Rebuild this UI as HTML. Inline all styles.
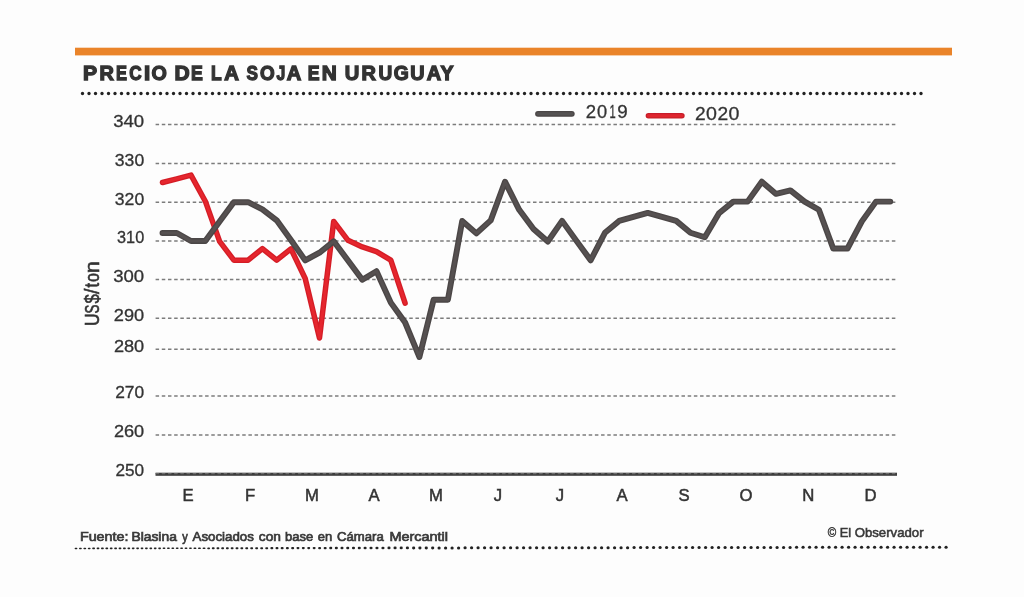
<!DOCTYPE html>
<html><head><meta charset="utf-8"><title>Precio de la soja en Uruguay</title>
<style>html,body{margin:0;padding:0;background:#fdfdfd;}svg{display:block;font-family:"Liberation Sans",sans-serif;}</style></head>
<body>
<svg style="will-change:transform" width="1024" height="597" viewBox="0 0 1024 597">
<defs><filter id="soft" x="0" y="0" width="1024" height="597" filterUnits="userSpaceOnUse"><feGaussianBlur stdDeviation="0.45"/></filter></defs>
<rect x="0" y="0" width="1024" height="597" fill="#fdfdfd"/>
<g filter="url(#soft)">
<rect x="75" y="47.7" width="877" height="7.7" fill="#ea8429"/>
<g><text transform="translate(83.03,80.35) scale(1.0724,1)" font-size="19.7" font-weight="bold" fill="#333" stroke="#333" stroke-width="1.3" stroke-linejoin="miter">P</text><text transform="translate(99.52,80.35) scale(1.0141,1)" font-size="19.7" font-weight="bold" fill="#333" stroke="#333" stroke-width="1.3" stroke-linejoin="miter">R</text><text transform="translate(116.04,80.35) scale(0.8338,1)" font-size="19.7" font-weight="bold" fill="#333" stroke="#333" stroke-width="1.3" stroke-linejoin="miter">E</text><text transform="translate(129.36,80.35) scale(0.8745,1)" font-size="19.7" font-weight="bold" fill="#333" stroke="#333" stroke-width="1.3" stroke-linejoin="miter">C</text><text transform="translate(143.94,80.35) scale(1.1359,1)" font-size="19.7" font-weight="bold" fill="#333" stroke="#333" stroke-width="1.3" stroke-linejoin="miter">I</text><text transform="translate(151.54,80.35) scale(1.0008,1)" font-size="19.7" font-weight="bold" fill="#333" stroke="#333" stroke-width="1.3" stroke-linejoin="miter">O</text><text transform="translate(174.49,80.35) scale(1.0686,1)" font-size="19.7" font-weight="bold" fill="#333" stroke="#333" stroke-width="1.3" stroke-linejoin="miter">D</text><text transform="translate(191.10,80.35) scale(0.8986,1)" font-size="19.7" font-weight="bold" fill="#333" stroke="#333" stroke-width="1.3" stroke-linejoin="miter">E</text><text transform="translate(211.11,80.35) scale(0.8852,1)" font-size="19.7" font-weight="bold" fill="#333" stroke="#333" stroke-width="1.3" stroke-linejoin="miter">L</text><text transform="translate(224.36,80.35) scale(1.0333,1)" font-size="19.7" font-weight="bold" fill="#333" stroke="#333" stroke-width="1.3" stroke-linejoin="miter">A</text><text transform="translate(246.47,80.35) scale(0.8701,1)" font-size="19.7" font-weight="bold" fill="#333" stroke="#333" stroke-width="1.3" stroke-linejoin="miter">S</text><text transform="translate(260.05,80.35) scale(0.9608,1)" font-size="19.7" font-weight="bold" fill="#333" stroke="#333" stroke-width="1.3" stroke-linejoin="miter">O</text><text transform="translate(276.48,80.35) scale(0.8010,1)" font-size="19.7" font-weight="bold" fill="#333" stroke="#333" stroke-width="1.3" stroke-linejoin="miter">J</text><text transform="translate(286.76,80.35) scale(1.0195,1)" font-size="19.7" font-weight="bold" fill="#333" stroke="#333" stroke-width="1.3" stroke-linejoin="miter">A</text><text transform="translate(307.70,80.35) scale(0.8986,1)" font-size="19.7" font-weight="bold" fill="#333" stroke="#333" stroke-width="1.3" stroke-linejoin="miter">E</text><text transform="translate(321.69,80.35) scale(1.0558,1)" font-size="19.7" font-weight="bold" fill="#333" stroke="#333" stroke-width="1.3" stroke-linejoin="miter">N</text><text transform="translate(344.75,80.35) scale(1.0235,1)" font-size="19.7" font-weight="bold" fill="#333" stroke="#333" stroke-width="1.3" stroke-linejoin="miter">U</text><text transform="translate(361.62,80.35) scale(1.0141,1)" font-size="19.7" font-weight="bold" fill="#333" stroke="#333" stroke-width="1.3" stroke-linejoin="miter">R</text><text transform="translate(378.38,80.35) scale(0.9664,1)" font-size="19.7" font-weight="bold" fill="#333" stroke="#333" stroke-width="1.3" stroke-linejoin="miter">U</text><text transform="translate(393.75,80.35) scale(0.9799,1)" font-size="19.7" font-weight="bold" fill="#333" stroke="#333" stroke-width="1.3" stroke-linejoin="miter">G</text><text transform="translate(410.36,80.35) scale(1.0045,1)" font-size="19.7" font-weight="bold" fill="#333" stroke="#333" stroke-width="1.3" stroke-linejoin="miter">U</text><text transform="translate(426.86,80.35) scale(1.0126,1)" font-size="19.7" font-weight="bold" fill="#333" stroke="#333" stroke-width="1.3" stroke-linejoin="miter">A</text><text transform="translate(440.51,80.35) scale(0.9938,1)" font-size="19.7" font-weight="bold" fill="#333" stroke="#333" stroke-width="1.3" stroke-linejoin="miter">Y</text></g>
<g fill="#222"><circle cx="82.50" cy="93.5" r="1.65"/><circle cx="89.00" cy="93.5" r="1.65"/><circle cx="95.50" cy="93.5" r="1.65"/><circle cx="102.00" cy="93.5" r="1.65"/><circle cx="108.50" cy="93.5" r="1.65"/><circle cx="115.00" cy="93.5" r="1.65"/><circle cx="121.50" cy="93.5" r="1.65"/><circle cx="128.00" cy="93.5" r="1.65"/><circle cx="134.50" cy="93.5" r="1.65"/><circle cx="141.00" cy="93.5" r="1.65"/><circle cx="147.50" cy="93.5" r="1.65"/><circle cx="154.00" cy="93.5" r="1.65"/><circle cx="160.50" cy="93.5" r="1.65"/><circle cx="167.00" cy="93.5" r="1.65"/><circle cx="173.50" cy="93.5" r="1.65"/><circle cx="180.00" cy="93.5" r="1.65"/><circle cx="186.50" cy="93.5" r="1.65"/><circle cx="193.00" cy="93.5" r="1.65"/><circle cx="199.50" cy="93.5" r="1.65"/><circle cx="206.00" cy="93.5" r="1.65"/><circle cx="212.50" cy="93.5" r="1.65"/><circle cx="219.00" cy="93.5" r="1.65"/><circle cx="225.50" cy="93.5" r="1.65"/><circle cx="232.00" cy="93.5" r="1.65"/><circle cx="238.50" cy="93.5" r="1.65"/><circle cx="245.00" cy="93.5" r="1.65"/><circle cx="251.50" cy="93.5" r="1.65"/><circle cx="258.00" cy="93.5" r="1.65"/><circle cx="264.50" cy="93.5" r="1.65"/><circle cx="271.00" cy="93.5" r="1.65"/><circle cx="277.50" cy="93.5" r="1.65"/><circle cx="284.00" cy="93.5" r="1.65"/><circle cx="290.50" cy="93.5" r="1.65"/><circle cx="297.00" cy="93.5" r="1.65"/><circle cx="303.50" cy="93.5" r="1.65"/><circle cx="310.00" cy="93.5" r="1.65"/><circle cx="316.50" cy="93.5" r="1.65"/><circle cx="323.00" cy="93.5" r="1.65"/><circle cx="329.50" cy="93.5" r="1.65"/><circle cx="336.00" cy="93.5" r="1.65"/><circle cx="342.50" cy="93.5" r="1.65"/><circle cx="349.00" cy="93.5" r="1.65"/><circle cx="355.50" cy="93.5" r="1.65"/><circle cx="362.00" cy="93.5" r="1.65"/><circle cx="368.50" cy="93.5" r="1.65"/><circle cx="375.00" cy="93.5" r="1.65"/><circle cx="381.50" cy="93.5" r="1.65"/><circle cx="388.00" cy="93.5" r="1.65"/><circle cx="394.50" cy="93.5" r="1.65"/><circle cx="401.00" cy="93.5" r="1.65"/><circle cx="407.50" cy="93.5" r="1.65"/><circle cx="414.00" cy="93.5" r="1.65"/><circle cx="420.50" cy="93.5" r="1.65"/><circle cx="427.00" cy="93.5" r="1.65"/><circle cx="433.50" cy="93.5" r="1.65"/><circle cx="440.00" cy="93.5" r="1.65"/><circle cx="446.50" cy="93.5" r="1.65"/><circle cx="453.00" cy="93.5" r="1.65"/><circle cx="459.50" cy="93.5" r="1.65"/><circle cx="466.00" cy="93.5" r="1.65"/><circle cx="472.50" cy="93.5" r="1.65"/><circle cx="479.00" cy="93.5" r="1.65"/><circle cx="485.50" cy="93.5" r="1.65"/><circle cx="492.00" cy="93.5" r="1.65"/><circle cx="498.50" cy="93.5" r="1.65"/><circle cx="505.00" cy="93.5" r="1.65"/><circle cx="511.50" cy="93.5" r="1.65"/><circle cx="518.00" cy="93.5" r="1.65"/><circle cx="524.50" cy="93.5" r="1.65"/><circle cx="531.00" cy="93.5" r="1.65"/><circle cx="537.50" cy="93.5" r="1.65"/><circle cx="544.00" cy="93.5" r="1.65"/><circle cx="550.50" cy="93.5" r="1.65"/><circle cx="557.00" cy="93.5" r="1.65"/><circle cx="563.50" cy="93.5" r="1.65"/><circle cx="570.00" cy="93.5" r="1.65"/><circle cx="576.50" cy="93.5" r="1.65"/><circle cx="583.00" cy="93.5" r="1.65"/><circle cx="589.50" cy="93.5" r="1.65"/><circle cx="596.00" cy="93.5" r="1.65"/><circle cx="602.50" cy="93.5" r="1.65"/><circle cx="609.00" cy="93.5" r="1.65"/><circle cx="615.50" cy="93.5" r="1.65"/><circle cx="622.00" cy="93.5" r="1.65"/><circle cx="628.50" cy="93.5" r="1.65"/><circle cx="635.00" cy="93.5" r="1.65"/><circle cx="641.50" cy="93.5" r="1.65"/><circle cx="648.00" cy="93.5" r="1.65"/><circle cx="654.50" cy="93.5" r="1.65"/><circle cx="661.00" cy="93.5" r="1.65"/><circle cx="667.50" cy="93.5" r="1.65"/><circle cx="674.00" cy="93.5" r="1.65"/><circle cx="680.50" cy="93.5" r="1.65"/><circle cx="687.00" cy="93.5" r="1.65"/><circle cx="693.50" cy="93.5" r="1.65"/><circle cx="700.00" cy="93.5" r="1.65"/><circle cx="706.50" cy="93.5" r="1.65"/><circle cx="713.00" cy="93.5" r="1.65"/><circle cx="719.50" cy="93.5" r="1.65"/><circle cx="726.00" cy="93.5" r="1.65"/><circle cx="732.50" cy="93.5" r="1.65"/><circle cx="739.00" cy="93.5" r="1.65"/><circle cx="745.50" cy="93.5" r="1.65"/><circle cx="752.00" cy="93.5" r="1.65"/><circle cx="758.50" cy="93.5" r="1.65"/><circle cx="765.00" cy="93.5" r="1.65"/><circle cx="771.50" cy="93.5" r="1.65"/><circle cx="778.00" cy="93.5" r="1.65"/><circle cx="784.50" cy="93.5" r="1.65"/><circle cx="791.00" cy="93.5" r="1.65"/><circle cx="797.50" cy="93.5" r="1.65"/><circle cx="804.00" cy="93.5" r="1.65"/><circle cx="810.50" cy="93.5" r="1.65"/><circle cx="817.00" cy="93.5" r="1.65"/><circle cx="823.50" cy="93.5" r="1.65"/><circle cx="830.00" cy="93.5" r="1.65"/><circle cx="836.50" cy="93.5" r="1.65"/><circle cx="843.00" cy="93.5" r="1.65"/><circle cx="849.50" cy="93.5" r="1.65"/><circle cx="856.00" cy="93.5" r="1.65"/><circle cx="862.50" cy="93.5" r="1.65"/><circle cx="869.00" cy="93.5" r="1.65"/><circle cx="875.50" cy="93.5" r="1.65"/><circle cx="882.00" cy="93.5" r="1.65"/><circle cx="888.50" cy="93.5" r="1.65"/><circle cx="895.00" cy="93.5" r="1.65"/><circle cx="901.50" cy="93.5" r="1.65"/><circle cx="908.00" cy="93.5" r="1.65"/><circle cx="914.50" cy="93.5" r="1.65"/><circle cx="921.00" cy="93.5" r="1.65"/></g>
<line x1="155.6" y1="124.5" x2="895.7" y2="124.5" stroke="#7c7c7c" stroke-width="1.5" stroke-dasharray="3.5 2.687"/>
<line x1="155.6" y1="163.4" x2="895.7" y2="163.4" stroke="#7c7c7c" stroke-width="1.5" stroke-dasharray="3.5 2.687"/>
<line x1="155.6" y1="202.2" x2="895.7" y2="202.2" stroke="#7c7c7c" stroke-width="1.5" stroke-dasharray="3.5 2.687"/>
<line x1="155.6" y1="241" x2="895.7" y2="241" stroke="#7c7c7c" stroke-width="1.5" stroke-dasharray="3.5 2.687"/>
<line x1="155.6" y1="279.5" x2="895.7" y2="279.5" stroke="#7c7c7c" stroke-width="1.5" stroke-dasharray="3.5 2.687"/>
<line x1="155.6" y1="318.3" x2="895.7" y2="318.3" stroke="#7c7c7c" stroke-width="1.5" stroke-dasharray="3.5 2.687"/>
<line x1="155.6" y1="349.2" x2="895.7" y2="349.2" stroke="#7c7c7c" stroke-width="1.5" stroke-dasharray="3.5 2.687"/>
<line x1="155.6" y1="396" x2="895.7" y2="396" stroke="#7c7c7c" stroke-width="1.5" stroke-dasharray="3.5 2.687"/>
<line x1="155.6" y1="435" x2="895.7" y2="435" stroke="#7c7c7c" stroke-width="1.5" stroke-dasharray="3.5 2.687"/>
<rect x="155.5" y="472.7" width="741.5" height="3.1" fill="#3c3c3c"/>
<line x1="155.6" y1="473.7" x2="895.7" y2="473.7" stroke="#777" stroke-width="1.0" stroke-dasharray="3.5 2.687"/>
<text x="144.2" y="127.1" font-size="16.4" fill="#333" stroke="#333" stroke-width="0.3" text-anchor="end" textLength="31.0" lengthAdjust="spacingAndGlyphs">340</text>
<text x="144.2" y="165.7" font-size="16.4" fill="#333" stroke="#333" stroke-width="0.3" text-anchor="end" textLength="29.4" lengthAdjust="spacingAndGlyphs">330</text>
<text x="144.2" y="204.5" font-size="16.4" fill="#333" stroke="#333" stroke-width="0.3" text-anchor="end" textLength="29.4" lengthAdjust="spacingAndGlyphs">320</text>
<text x="144.2" y="243.3" font-size="16.4" fill="#333" stroke="#333" stroke-width="0.3" text-anchor="end" textLength="27.2" lengthAdjust="spacingAndGlyphs">310</text>
<text x="144.2" y="281.8" font-size="16.4" fill="#333" stroke="#333" stroke-width="0.3" text-anchor="end" textLength="31.0" lengthAdjust="spacingAndGlyphs">300</text>
<text x="144.2" y="320.6" font-size="16.4" fill="#333" stroke="#333" stroke-width="0.3" text-anchor="end" textLength="30.4" lengthAdjust="spacingAndGlyphs">290</text>
<text x="144.2" y="351.8" font-size="16.4" fill="#333" stroke="#333" stroke-width="0.3" text-anchor="end" textLength="30.3" lengthAdjust="spacingAndGlyphs">280</text>
<text x="144.2" y="398.1" font-size="16.4" fill="#333" stroke="#333" stroke-width="0.3" text-anchor="end" textLength="29.0" lengthAdjust="spacingAndGlyphs">270</text>
<text x="144.2" y="437" font-size="16.4" fill="#333" stroke="#333" stroke-width="0.3" text-anchor="end" textLength="30.3" lengthAdjust="spacingAndGlyphs">260</text>
<text x="144.2" y="475.8" font-size="16.4" fill="#333" stroke="#333" stroke-width="0.3" text-anchor="end" textLength="28.7" lengthAdjust="spacingAndGlyphs">250</text>
<text x="188.1" y="501.3" font-size="16.7" fill="#333" stroke="#333" stroke-width="0.5" text-anchor="middle">E</text>
<text x="250.1" y="501.3" font-size="16.7" fill="#333" stroke="#333" stroke-width="0.5" text-anchor="middle">F</text>
<text x="311.9" y="501.3" font-size="16.7" fill="#333" stroke="#333" stroke-width="0.5" text-anchor="middle">M</text>
<text x="374" y="501.3" font-size="16.7" fill="#333" stroke="#333" stroke-width="0.5" text-anchor="middle">A</text>
<text x="436" y="501.3" font-size="16.7" fill="#333" stroke="#333" stroke-width="0.5" text-anchor="middle">M</text>
<text x="498" y="501.3" font-size="16.7" fill="#333" stroke="#333" stroke-width="0.5" text-anchor="middle">J</text>
<text x="560" y="501.3" font-size="16.7" fill="#333" stroke="#333" stroke-width="0.5" text-anchor="middle">J</text>
<text x="622" y="501.3" font-size="16.7" fill="#333" stroke="#333" stroke-width="0.5" text-anchor="middle">A</text>
<text x="684" y="501.3" font-size="16.7" fill="#333" stroke="#333" stroke-width="0.5" text-anchor="middle">S</text>
<text x="745.9" y="501.3" font-size="16.7" fill="#333" stroke="#333" stroke-width="0.5" text-anchor="middle">O</text>
<text x="808.4" y="501.3" font-size="16.7" fill="#333" stroke="#333" stroke-width="0.5" text-anchor="middle">N</text>
<text x="870.6" y="501.3" font-size="16.7" fill="#333" stroke="#333" stroke-width="0.5" text-anchor="middle">D</text>
<g><text transform="translate(99.2,325.3) rotate(-90) translate(-0.60,0) scale(0.8617,1)" font-size="20.4" fill="#333" stroke="#333" stroke-width="0.6" stroke-linejoin="miter">U</text><text transform="translate(99.2,325.3) rotate(-90) translate(11.89,0) scale(0.6562,1)" font-size="20.4" fill="#333" stroke="#333" stroke-width="0.6" stroke-linejoin="miter">S</text><text transform="translate(99.2,325.3) rotate(-90) translate(21.77,0) scale(0.8247,1)" font-size="20.4" fill="#333" stroke="#333" stroke-width="0.6" stroke-linejoin="miter">$</text><text transform="translate(99.2,325.3) rotate(-90) translate(31.39,0) scale(0.9573,1)" font-size="20.4" fill="#333" stroke="#333" stroke-width="0.6" stroke-linejoin="miter">/</text><text transform="translate(99.2,325.3) rotate(-90) translate(37.79,0) scale(0.8090,1)" font-size="20.4" fill="#333" stroke="#333" stroke-width="0.6" stroke-linejoin="miter">t</text><text transform="translate(99.2,325.3) rotate(-90) translate(43.36,0) scale(0.7916,1)" font-size="20.4" fill="#333" stroke="#333" stroke-width="0.6" stroke-linejoin="miter">o</text><text transform="translate(99.2,325.3) rotate(-90) translate(52.08,0) scale(1.0576,1)" font-size="20.4" fill="#333" stroke="#333" stroke-width="0.6" stroke-linejoin="miter">n</text></g>
<line x1="538" y1="113.85" x2="571.8" y2="113.85" stroke="#4b4646" stroke-width="5.8" stroke-linecap="round"/><line x1="538" y1="113.85" x2="571.8" y2="113.85" stroke="#575353" stroke-width="3.2" stroke-linecap="round"/>
<text transform="translate(585.81,117.95) scale(1.0030,1)" font-size="18.6" fill="#333" stroke="#333" stroke-width="0.3" stroke-linejoin="miter">2</text><text transform="translate(597.04,117.95) scale(0.9792,1)" font-size="18.6" fill="#333" stroke="#333" stroke-width="0.3" stroke-linejoin="miter">0</text><text transform="translate(609.44,117.95) scale(0.6010,1)" font-size="18.6" fill="#333" stroke="#333" stroke-width="0.3" stroke-linejoin="miter">1</text><text transform="translate(617.17,117.95) scale(1.0122,1)" font-size="18.6" fill="#333" stroke="#333" stroke-width="0.3" stroke-linejoin="miter">9</text>
<line x1="648.4" y1="115.7" x2="681.9" y2="115.7" stroke="#c71f29" stroke-width="5.5" stroke-linecap="round"/><line x1="648.4" y1="115.7" x2="681.9" y2="115.7" stroke="#df262f" stroke-width="3" stroke-linecap="round"/>
<text transform="translate(694.89,119.85) scale(1.0315,1)" font-size="18.6" fill="#333" stroke="#333" stroke-width="0.3" stroke-linejoin="miter">2</text><text transform="translate(705.99,119.85) scale(1.0553,1)" font-size="18.6" fill="#333" stroke="#333" stroke-width="0.3" stroke-linejoin="miter">0</text><text transform="translate(717.39,119.85) scale(1.0315,1)" font-size="18.6" fill="#333" stroke="#333" stroke-width="0.3" stroke-linejoin="miter">2</text><text transform="translate(728.49,119.85) scale(1.0553,1)" font-size="18.6" fill="#333" stroke="#333" stroke-width="0.3" stroke-linejoin="miter">0</text>
<polyline points="162.5,182.5 176.8,178.8 191.0,175.1 205.3,201.2 219.6,241.4 233.8,260.2 248.1,260.2 262.4,248.6 276.7,260.2 290.9,248.8 305.2,278.5 319.5,338.0 333.7,221.4 348.0,240.3 362.3,246.9 376.5,251.7 390.8,260.2 405.1,303.1" fill="none" stroke="#d41d26" stroke-width="5.5" stroke-linejoin="round" stroke-linecap="round"/><polyline points="162.5,182.5 176.8,178.8 191.0,175.1 205.3,201.2 219.6,241.4 233.8,260.2 248.1,260.2 262.4,248.6 276.7,260.2 290.9,248.8 305.2,278.5 319.5,338.0 333.7,221.4 348.0,240.3 362.3,246.9 376.5,251.7 390.8,260.2 405.1,303.1" fill="none" stroke="#e5262d" stroke-width="3" stroke-linejoin="round" stroke-linecap="round"/>
<polyline points="162.5,233.0 176.8,233.0 191.0,241.0 205.3,241.0 219.6,221.6 233.8,202.2 248.1,202.2 262.4,209.3 276.7,220.3 290.9,240.0 305.2,260.4 319.5,252.7 333.7,241.3 348.0,260.5 362.3,279.8 376.5,271.2 390.8,302.6 405.1,322.5 419.4,357.0 433.6,299.7 447.9,299.7 462.2,221.0 476.4,233.4 490.7,220.4 505.0,181.7 519.2,209.8 533.5,229.1 547.8,241.5 562.1,220.9 576.3,240.6 590.6,260.3 604.9,232.8 619.1,220.9 633.4,216.9 647.7,212.9 662.0,216.9 676.2,220.9 690.5,232.7 704.8,237.3 719.0,213.3 733.3,201.6 747.6,201.6 761.8,181.7 776.1,193.9 790.4,190.4 804.6,201.6 818.9,209.8 833.2,248.5 847.5,248.5 861.7,221.6 876.0,201.6 890.3,201.6" fill="none" stroke="#4b4646" stroke-width="5.9" stroke-linejoin="round" stroke-linecap="round"/><polyline points="162.5,233.0 176.8,233.0 191.0,241.0 205.3,241.0 219.6,221.6 233.8,202.2 248.1,202.2 262.4,209.3 276.7,220.3 290.9,240.0 305.2,260.4 319.5,252.7 333.7,241.3 348.0,260.5 362.3,279.8 376.5,271.2 390.8,302.6 405.1,322.5 419.4,357.0 433.6,299.7 447.9,299.7 462.2,221.0 476.4,233.4 490.7,220.4 505.0,181.7 519.2,209.8 533.5,229.1 547.8,241.5 562.1,220.9 576.3,240.6 590.6,260.3 604.9,232.8 619.1,220.9 633.4,216.9 647.7,212.9 662.0,216.9 676.2,220.9 690.5,232.7 704.8,237.3 719.0,213.3 733.3,201.6 747.6,201.6 761.8,181.7 776.1,193.9 790.4,190.4 804.6,201.6 818.9,209.8 833.2,248.5 847.5,248.5 861.7,221.6 876.0,201.6 890.3,201.6" fill="none" stroke="#565151" stroke-width="3.2" stroke-linejoin="round" stroke-linecap="round"/>
<text transform="translate(79.90,540.55) scale(1.0625,1)" font-size="13.5" fill="#383838" stroke="#383838" stroke-width="0.7" style="font-kerning:none">Fuente:</text><text transform="translate(131.47,540.55) scale(1.0258,1)" font-size="13.5" fill="#383838" stroke="#383838" stroke-width="0.7" style="font-kerning:none">Blasina</text><text transform="translate(182.16,540.55) scale(0.8118,1)" font-size="13.5" fill="#383838" stroke="#383838" stroke-width="0.7" style="font-kerning:none">y</text><text transform="translate(192.57,540.55) scale(0.9844,1)" font-size="13.5" fill="#383838" stroke="#383838" stroke-width="0.7" style="font-kerning:none">Asociados</text><text transform="translate(258.87,540.55) scale(1.0183,1)" font-size="13.5" fill="#383838" stroke="#383838" stroke-width="0.7" style="font-kerning:none">con</text><text transform="translate(285.00,540.55) scale(0.9648,1)" font-size="13.5" fill="#383838" stroke="#383838" stroke-width="0.7" style="font-kerning:none">base</text><text transform="translate(317.79,540.55) scale(0.9603,1)" font-size="13.5" fill="#383838" stroke="#383838" stroke-width="0.7" style="font-kerning:none">en</text><text transform="translate(336.97,540.55) scale(0.9744,1)" font-size="13.5" fill="#383838" stroke="#383838" stroke-width="0.7" style="font-kerning:none">Cámara</text><text transform="translate(389.39,540.55) scale(1.0701,1)" font-size="13.5" fill="#383838" stroke="#383838" stroke-width="0.7" style="font-kerning:none">Mercantil</text>
<text transform="translate(827.78,536.7) scale(0.9095,1)" font-size="12.6" fill="#383838" stroke="#383838" stroke-width="0.45" stroke-linejoin="miter">©</text>
<text transform="translate(839.82,536.55) scale(0.9689,1)" font-size="13.2" fill="#383838" stroke="#383838" stroke-width="0.55" style="font-kerning:none">El</text><text transform="translate(854.65,536.55) scale(1.0012,1)" font-size="13.2" fill="#383838" stroke="#383838" stroke-width="0.55" style="font-kerning:none">Observador</text>
<g fill="#222"><rect x="74.60" y="547.65" width="2.8" height="1.60" rx="0.80" ry="0.80"/><rect x="79.00" y="547.64" width="2.8" height="1.60" rx="0.80" ry="0.80"/><rect x="83.40" y="547.64" width="2.8" height="1.60" rx="0.80" ry="0.80"/><rect x="87.80" y="547.63" width="2.8" height="1.60" rx="0.80" ry="0.80"/><rect x="92.20" y="547.62" width="2.8" height="1.60" rx="0.80" ry="0.80"/><rect x="96.60" y="547.62" width="2.8" height="1.60" rx="0.80" ry="0.80"/><rect x="101.00" y="547.61" width="2.8" height="1.60" rx="0.80" ry="0.80"/><rect x="105.40" y="547.60" width="2.8" height="1.60" rx="0.80" ry="0.80"/><rect x="109.80" y="547.60" width="2.8" height="1.60" rx="0.80" ry="0.80"/><rect x="114.20" y="547.59" width="2.8" height="1.60" rx="0.80" ry="0.80"/><rect x="118.60" y="547.58" width="2.8" height="1.60" rx="0.80" ry="0.80"/><rect x="123.00" y="547.58" width="2.8" height="1.60" rx="0.80" ry="0.80"/><rect x="127.40" y="547.57" width="2.8" height="1.60" rx="0.80" ry="0.80"/><rect x="131.80" y="547.56" width="2.8" height="1.60" rx="0.80" ry="0.80"/><rect x="136.20" y="547.56" width="2.8" height="1.60" rx="0.80" ry="0.80"/><rect x="140.60" y="547.55" width="2.8" height="1.60" rx="0.80" ry="0.80"/><rect x="145.00" y="547.54" width="2.8" height="1.60" rx="0.80" ry="0.80"/><rect x="149.40" y="547.54" width="2.8" height="1.60" rx="0.80" ry="0.80"/><rect x="153.80" y="547.53" width="2.8" height="1.60" rx="0.80" ry="0.80"/><rect x="158.20" y="547.53" width="2.8" height="1.60" rx="0.80" ry="0.80"/><rect x="162.60" y="547.52" width="2.8" height="1.60" rx="0.80" ry="0.80"/><rect x="167.00" y="547.51" width="2.8" height="1.60" rx="0.80" ry="0.80"/><rect x="171.40" y="547.51" width="2.8" height="1.60" rx="0.80" ry="0.80"/><rect x="175.80" y="547.50" width="2.8" height="1.60" rx="0.80" ry="0.80"/><rect x="180.20" y="547.49" width="2.8024615384615386" height="1.61" rx="0.80" ry="0.80"/><rect x="184.61" y="547.47" width="2.809250650887574" height="1.63" rx="0.82" ry="0.82"/><rect x="189.05" y="547.45" width="2.8160945984524353" height="1.66" rx="0.83" ry="0.83"/><rect x="193.53" y="547.43" width="2.8229938240553203" height="1.68" rx="0.84" ry="0.84"/><rect x="198.05" y="547.41" width="2.8299487741726903" height="1.70" rx="0.85" ry="0.85"/><rect x="202.61" y="547.39" width="2.836959898887162" height="1.73" rx="0.86" ry="0.86"/><rect x="207.20" y="547.38" width="2.844027651916635" height="1.75" rx="0.88" ry="0.88"/><rect x="211.82" y="547.36" width="2.851152490643654" height="1.78" rx="0.89" ry="0.89"/><rect x="216.49" y="547.34" width="2.8583348761450065" height="1.80" rx="0.90" ry="0.90"/><rect x="221.19" y="547.32" width="2.8655752732215625" height="1.83" rx="0.91" ry="0.91"/><rect x="225.93" y="547.30" width="2.872874150428352" height="1.86" rx="0.93" ry="0.93"/><rect x="230.71" y="547.28" width="2.8802319801048886" height="1.88" rx="0.94" ry="0.94"/><rect x="235.53" y="547.26" width="2.8876492384057357" height="1.91" rx="0.95" ry="0.95"/><rect x="240.38" y="547.24" width="2.895126405331321" height="1.93" rx="0.97" ry="0.97"/><rect x="245.28" y="547.22" width="2.9026639647589967" height="1.96" rx="0.98" ry="0.98"/><rect x="250.22" y="547.19" width="2.910262404474358" height="1.99" rx="0.99" ry="0.99"/><rect x="255.19" y="547.17" width="2.9179222162028045" height="2.01" rx="1.01" ry="1.01"/><rect x="260.21" y="547.15" width="2.925643895641366" height="2.04" rx="1.02" ry="1.02"/><rect x="265.26" y="547.13" width="2.933427942490777" height="2.07" rx="1.03" ry="1.03"/><rect x="270.36" y="547.11" width="2.941274860487818" height="2.09" rx="1.05" ry="1.05"/><rect x="275.50" y="547.09" width="2.9491851574379115" height="2.12" rx="1.06" ry="1.06"/><rect x="280.67" y="547.07" width="2.957159345247987" height="2.15" rx="1.08" ry="1.08"/><rect x="285.90" y="547.05" width="2.9651979399596056" height="2.18" rx="1.09" ry="1.09"/><rect x="291.16" y="547.02" width="2.973301461782356" height="2.21" rx="1.10" ry="1.10"/><rect x="296.47" y="547.00" width="2.9814704351275214" height="2.24" rx="1.12" ry="1.12"/><rect x="301.81" y="546.98" width="2.989705388642013" height="2.26" rx="1.13" ry="1.13"/><rect x="307.21" y="546.96" width="2.998006855242583" height="2.29" rx="1.15" ry="1.15"/><rect x="312.64" y="546.93" width="3.0063753721503117" height="2.32" rx="1.16" ry="1.16"/><rect x="318.12" y="546.91" width="3.014811480925372" height="2.35" rx="1.18" ry="1.18"/><rect x="323.64" y="546.89" width="3.0233157275020766" height="2.38" rx="1.19" ry="1.19"/><rect x="329.21" y="546.86" width="3.031888662224209" height="2.41" rx="1.21" ry="1.21"/><rect x="334.82" y="546.84" width="3.040530839880635" height="2.44" rx="1.22" ry="1.22"/><rect x="340.48" y="546.82" width="3.0492428197412096" height="2.47" rx="1.24" ry="1.24"/><rect x="346.19" y="546.79" width="3.0580251655929653" height="2.50" rx="1.25" ry="1.25"/><rect x="351.94" y="546.77" width="3.066878445776601" height="2.53" rx="1.27" ry="1.27"/><rect x="357.73" y="546.74" width="3.075803233223258" height="2.57" rx="1.28" ry="1.28"/><rect x="363.58" y="546.72" width="3.0848001054916" height="2.60" rx="1.30" ry="1.30"/><rect x="369.47" y="546.70" width="3.093869644805186" height="2.63" rx="1.31" ry="1.31"/><rect x="375.41" y="546.67" width="3.103012438090151" height="2.66" rx="1.33" ry="1.33"/><rect x="381.39" y="546.65" width="3.1122290770131866" height="2.69" rx="1.35" ry="1.35"/><rect x="387.43" y="546.62" width="3.1215201580198317" height="2.73" rx="1.36" ry="1.36"/><rect x="393.51" y="546.59" width="3.1308862823730688" height="2.76" rx="1.38" ry="1.38"/><rect x="399.64" y="546.57" width="3.140328056192236" height="2.79" rx="1.40" ry="1.40"/><rect x="405.83" y="546.54" width="3.1498460904922503" height="2.82" rx="1.41" ry="1.41"/><rect x="412.06" y="546.52" width="3.159441001223149" height="2.86" rx="1.43" ry="1.43"/><rect x="418.34" y="546.49" width="3.1691134093099516" height="2.89" rx="1.45" ry="1.45"/><rect x="424.67" y="546.46" width="3.1788639406928394" height="2.93" rx="1.46" ry="1.46"/><rect x="431.06" y="546.44" width="3.188693226367666" height="2.96" rx="1.48" ry="1.48"/><rect x="437.49" y="546.41" width="3.1986019024267898" height="3.00" rx="1.50" ry="1.50"/><rect x="443.98" y="546.40" width="3.1999999999999997" height="3.00" rx="1.50" ry="1.50"/><rect x="450.48" y="546.39" width="3.1999999999999997" height="3.00" rx="1.50" ry="1.50"/><rect x="456.98" y="546.38" width="3.1999999999999997" height="3.00" rx="1.50" ry="1.50"/><rect x="463.48" y="546.37" width="3.1999999999999997" height="3.00" rx="1.50" ry="1.50"/><rect x="469.98" y="546.36" width="3.1999999999999997" height="3.00" rx="1.50" ry="1.50"/><rect x="476.48" y="546.35" width="3.1999999999999997" height="3.00" rx="1.50" ry="1.50"/><rect x="482.98" y="546.34" width="3.1999999999999997" height="3.00" rx="1.50" ry="1.50"/><rect x="489.48" y="546.33" width="3.1999999999999997" height="3.00" rx="1.50" ry="1.50"/><rect x="495.98" y="546.32" width="3.1999999999999997" height="3.00" rx="1.50" ry="1.50"/><rect x="502.48" y="546.31" width="3.1999999999999997" height="3.00" rx="1.50" ry="1.50"/><rect x="508.98" y="546.30" width="3.1999999999999997" height="3.00" rx="1.50" ry="1.50"/><rect x="515.48" y="546.29" width="3.1999999999999997" height="3.00" rx="1.50" ry="1.50"/><rect x="521.98" y="546.28" width="3.1999999999999997" height="3.00" rx="1.50" ry="1.50"/><rect x="528.48" y="546.27" width="3.1999999999999997" height="3.00" rx="1.50" ry="1.50"/><rect x="534.98" y="546.26" width="3.1999999999999997" height="3.00" rx="1.50" ry="1.50"/><rect x="541.48" y="546.25" width="3.1999999999999997" height="3.00" rx="1.50" ry="1.50"/><rect x="547.98" y="546.24" width="3.1999999999999997" height="3.00" rx="1.50" ry="1.50"/><rect x="554.48" y="546.23" width="3.1999999999999997" height="3.00" rx="1.50" ry="1.50"/><rect x="560.98" y="546.22" width="3.1999999999999997" height="3.00" rx="1.50" ry="1.50"/><rect x="567.48" y="546.21" width="3.1999999999999997" height="3.00" rx="1.50" ry="1.50"/><rect x="573.98" y="546.20" width="3.1999999999999997" height="3.00" rx="1.50" ry="1.50"/><rect x="580.48" y="546.19" width="3.1999999999999997" height="3.00" rx="1.50" ry="1.50"/><rect x="586.98" y="546.18" width="3.1999999999999997" height="3.00" rx="1.50" ry="1.50"/><rect x="593.48" y="546.18" width="3.1999999999999997" height="3.00" rx="1.50" ry="1.50"/><rect x="599.98" y="546.17" width="3.1999999999999997" height="3.00" rx="1.50" ry="1.50"/><rect x="606.48" y="546.16" width="3.1999999999999997" height="3.00" rx="1.50" ry="1.50"/><rect x="612.98" y="546.15" width="3.1999999999999997" height="3.00" rx="1.50" ry="1.50"/><rect x="619.48" y="546.14" width="3.1999999999999997" height="3.00" rx="1.50" ry="1.50"/><rect x="625.98" y="546.13" width="3.1999999999999997" height="3.00" rx="1.50" ry="1.50"/><rect x="632.48" y="546.12" width="3.1999999999999997" height="3.00" rx="1.50" ry="1.50"/><rect x="638.98" y="546.11" width="3.1999999999999997" height="3.00" rx="1.50" ry="1.50"/><rect x="645.48" y="546.10" width="3.1999999999999997" height="3.00" rx="1.50" ry="1.50"/><rect x="651.98" y="546.09" width="3.1999999999999997" height="3.00" rx="1.50" ry="1.50"/><rect x="658.48" y="546.08" width="3.1999999999999997" height="3.00" rx="1.50" ry="1.50"/><rect x="664.98" y="546.07" width="3.1999999999999997" height="3.00" rx="1.50" ry="1.50"/><rect x="671.48" y="546.06" width="3.1999999999999997" height="3.00" rx="1.50" ry="1.50"/><rect x="677.98" y="546.05" width="3.1999999999999997" height="3.00" rx="1.50" ry="1.50"/><rect x="684.48" y="546.04" width="3.1999999999999997" height="3.00" rx="1.50" ry="1.50"/><rect x="690.98" y="546.03" width="3.1999999999999997" height="3.00" rx="1.50" ry="1.50"/><rect x="697.48" y="546.02" width="3.1999999999999997" height="3.00" rx="1.50" ry="1.50"/><rect x="703.98" y="546.01" width="3.1999999999999997" height="3.00" rx="1.50" ry="1.50"/><rect x="710.48" y="546.00" width="3.1999999999999997" height="3.00" rx="1.50" ry="1.50"/><rect x="716.98" y="545.99" width="3.1999999999999997" height="3.00" rx="1.50" ry="1.50"/><rect x="723.48" y="545.98" width="3.1999999999999997" height="3.00" rx="1.50" ry="1.50"/><rect x="729.98" y="545.97" width="3.1999999999999997" height="3.00" rx="1.50" ry="1.50"/><rect x="736.48" y="545.96" width="3.1999999999999997" height="3.00" rx="1.50" ry="1.50"/><rect x="742.98" y="545.95" width="3.1999999999999997" height="3.00" rx="1.50" ry="1.50"/><rect x="749.48" y="545.94" width="3.1999999999999997" height="3.00" rx="1.50" ry="1.50"/><rect x="755.98" y="545.93" width="3.1999999999999997" height="3.00" rx="1.50" ry="1.50"/><rect x="762.48" y="545.92" width="3.1999999999999997" height="3.00" rx="1.50" ry="1.50"/><rect x="768.98" y="545.91" width="3.1999999999999997" height="3.00" rx="1.50" ry="1.50"/><rect x="775.48" y="545.90" width="3.1999999999999997" height="3.00" rx="1.50" ry="1.50"/><rect x="781.98" y="545.89" width="3.1999999999999997" height="3.00" rx="1.50" ry="1.50"/><rect x="788.48" y="545.88" width="3.1999999999999997" height="3.00" rx="1.50" ry="1.50"/><rect x="794.98" y="545.87" width="3.1999999999999997" height="3.00" rx="1.50" ry="1.50"/><rect x="801.48" y="545.86" width="3.1999999999999997" height="3.00" rx="1.50" ry="1.50"/><rect x="807.98" y="545.86" width="3.1999999999999997" height="3.00" rx="1.50" ry="1.50"/><rect x="814.48" y="545.85" width="3.1999999999999997" height="3.00" rx="1.50" ry="1.50"/><rect x="820.98" y="545.84" width="3.1999999999999997" height="3.00" rx="1.50" ry="1.50"/><rect x="827.48" y="545.83" width="3.1999999999999997" height="3.00" rx="1.50" ry="1.50"/><rect x="833.98" y="545.82" width="3.1999999999999997" height="3.00" rx="1.50" ry="1.50"/><rect x="840.48" y="545.81" width="3.1999999999999997" height="3.00" rx="1.50" ry="1.50"/><rect x="846.98" y="545.80" width="3.1999999999999997" height="3.00" rx="1.50" ry="1.50"/><rect x="853.48" y="545.79" width="3.1999999999999997" height="3.00" rx="1.50" ry="1.50"/><rect x="859.98" y="545.78" width="3.1999999999999997" height="3.00" rx="1.50" ry="1.50"/><rect x="866.48" y="545.77" width="3.1999999999999997" height="3.00" rx="1.50" ry="1.50"/><rect x="872.98" y="545.76" width="3.1999999999999997" height="3.00" rx="1.50" ry="1.50"/><rect x="879.48" y="545.75" width="3.1999999999999997" height="3.00" rx="1.50" ry="1.50"/><rect x="885.98" y="545.74" width="3.1999999999999997" height="3.00" rx="1.50" ry="1.50"/><rect x="892.48" y="545.73" width="3.1999999999999997" height="3.00" rx="1.50" ry="1.50"/><rect x="898.98" y="545.72" width="3.1999999999999997" height="3.00" rx="1.50" ry="1.50"/><rect x="905.48" y="545.71" width="3.1999999999999997" height="3.00" rx="1.50" ry="1.50"/><rect x="911.98" y="545.70" width="3.1999999999999997" height="3.00" rx="1.50" ry="1.50"/><rect x="918.48" y="545.69" width="3.1999999999999997" height="3.00" rx="1.50" ry="1.50"/><rect x="924.98" y="545.68" width="3.1999999999999997" height="3.00" rx="1.50" ry="1.50"/><rect x="931.48" y="545.67" width="3.1999999999999997" height="3.00" rx="1.50" ry="1.50"/><rect x="937.98" y="545.66" width="3.1999999999999997" height="3.00" rx="1.50" ry="1.50"/><rect x="944.48" y="545.65" width="3.1999999999999997" height="3.00" rx="1.50" ry="1.50"/></g>
</g>
</svg>
</body></html>
